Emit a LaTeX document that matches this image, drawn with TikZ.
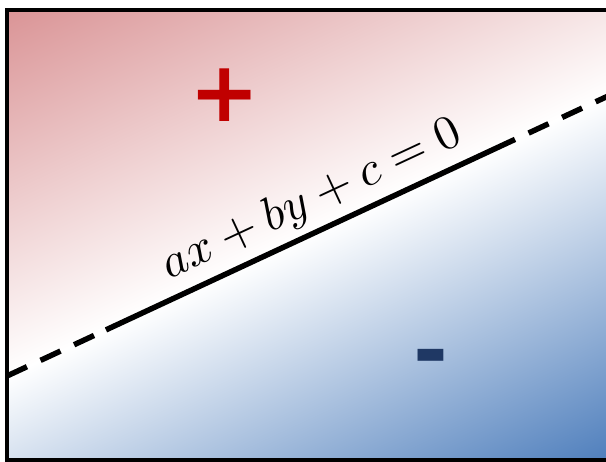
\documentclass[tikz,border=0pt]{standalone}
\usepackage{fontspec}
\newfontfamily\symfont{DejaVu Sans}
\usetikzlibrary{calc}
\definecolor{topred}{RGB}{218,148,150}
\definecolor{botblue}{RGB}{78,126,188}
\definecolor{plusred}{RGB}{192,0,0}
\definecolor{minusblue}{RGB}{31,56,100}
\begin{document}
\begin{tikzpicture}[x=1pt,y=1pt,line join=miter,
  frame/.style={line width=4pt},
  sep/.style={line width=5.5pt},
  sepdash/.style={sep,dash pattern=on 22pt off 15pt},
  signtext/.style={font=\symfont\bfseries\fontsize{84}{84}\selectfont,inner sep=0pt}]
\useasboundingbox (0,0) rectangle (606,462);
\coordinate (C) at (306,225.3);
\begin{scope}
  \clip (7,2) rectangle (620,452);
  \begin{scope}[transform canvas={rotate around={25:(C)}}]
    \shade[top color=topred,bottom color=botblue,middle color=white]
      (C) ++(-520,-332) rectangle ++(1040,664);
  \end{scope}
\end{scope}
\coordinate (L) at (7,86);
\coordinate (S1) at (106,132.1);
\coordinate (S2) at (515,322.6);
\coordinate (R) at (612,367.8);
\draw[sepdash] (L) -- (S1);
\draw[sep] (S1) -- (S2);
\draw[sepdash,dash phase=22pt] (S2) -- (R);
\draw[frame] (612,452) -- (7,452) -- (7,2) -- (612,2);
\node[rotate=25,scale=4.8] (eq) at (312,262) {$ax+by+c=0$};
\node[signtext,text=plusred] (plus) at (225,367) {+};
\node[signtext,text=minusblue] (minus) at (431,98) {-};
\end{tikzpicture}
\end{document}
